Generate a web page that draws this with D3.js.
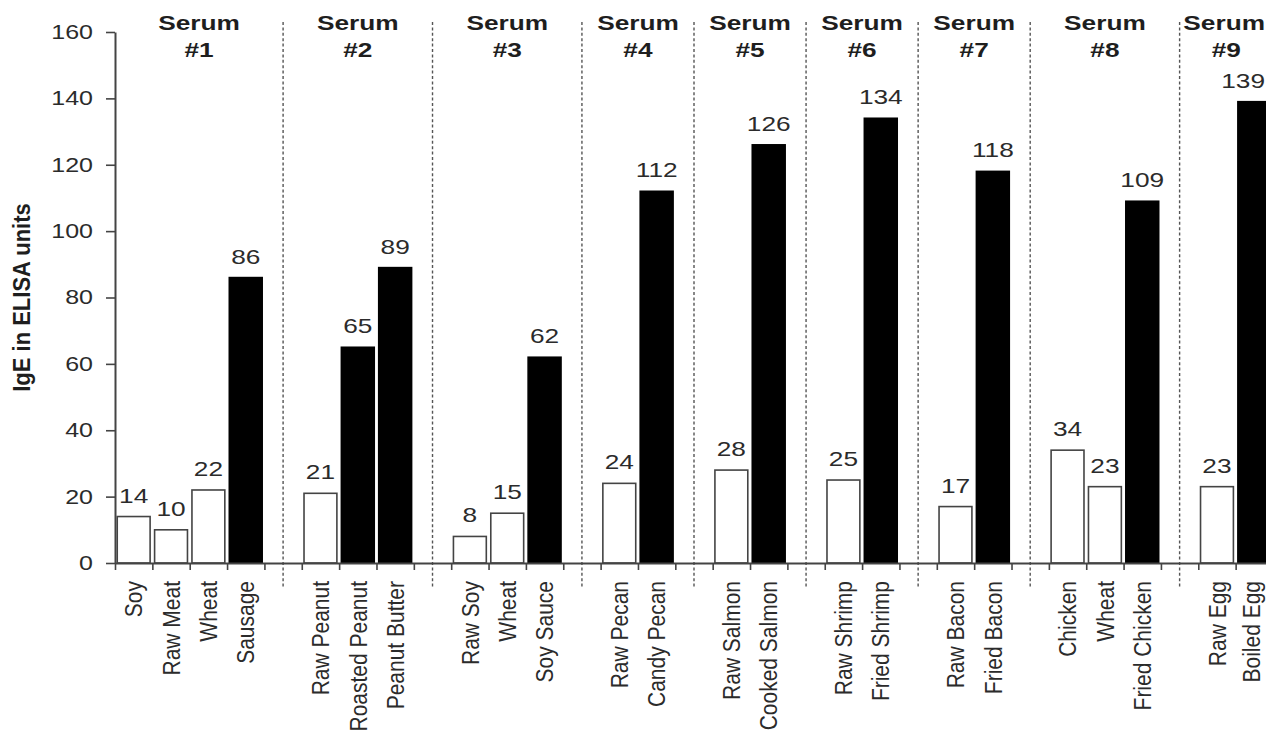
<!DOCTYPE html>
<html>
<head>
<meta charset="utf-8">
<script src="https://cdn.jsdelivr.net/npm/d3@7"></script>
<style>
  html, body { margin: 0; padding: 0; background: #fff; }
  svg { display: block; font-family: "Liberation Sans", Arial, Helvetica, sans-serif; }
</style>
</head>
<body>
<svg id="chart" width="1266" height="739"></svg>
<script>
// Serum groups, foods tested against each serum, IgE readings and whether the food was processed
const serumNames = ["#1", "#2", "#3", "#4", "#5", "#6", "#7", "#8", "#9"];
const foodNames = [
  ["Soy", "Raw Meat", "Wheat", "Sausage"],
  ["Raw Peanut", "Roasted Peanut", "Peanut Butter"],
  ["Raw Soy", "Wheat", "Soy Sauce"],
  ["Raw Pecan", "Candy Pecan"],
  ["Raw Salmon", "Cooked Salmon"],
  ["Raw Shrimp", "Fried Shrimp"],
  ["Raw Bacon", "Fried Bacon"],
  ["Chicken", "Wheat", "Fried Chicken"],
  ["Raw Egg", "Boiled Egg"]
];
const igeValues = [
  [14, 10, 22, 86],
  [21, 65, 89],
  [8, 15, 62],
  [24, 112],
  [28, 126],
  [25, 134],
  [17, 118],
  [34, 23, 109],
  [23, 139]
];
const processedFlags = [
  [0, 0, 0, 1],
  [0, 1, 1],
  [0, 0, 1],
  [0, 1],
  [0, 1],
  [0, 1],
  [0, 1],
  [0, 0, 1],
  [0, 1]
];
const yTicks = [0, 20, 40, 60, 80, 100, 120, 140, 160];
const yTitle = "IgE in ELISA units";
const groupWord = "Serum";

const svg = d3.select("#chart");
const W = 1266;
const plot = { left: 115, right: 1273, top: 32, bottom: 563 };
const SX = 1.25;             // horizontal widening of glyphs
const SXR = 1.15;            // widening for the rotated food labels
const textColor = "#2b2b2b";
const lineColor = "#444";

// Flatten into one row per slot; an empty slot separates consecutive serum groups
const rows = [];
serumNames.forEach((s, g) => {
  foodNames[g].forEach((f, i) => {
    rows.push({ key: g + ":" + i, group: g, food: f, value: igeValues[g][i], processed: !!processedFlags[g][i] });
  });
  if (g < serumNames.length - 1) rows.push({ key: "gap" + g, group: g, gap: true });
});
const slotKeys = rows.map(r => r.key);

const slot = d3.scaleBand().domain(slotKeys).range([plot.left, plot.right]).padding(0);
const band = d3.scaleBand().domain(slotKeys).range([plot.left, plot.right])
  .paddingInner(0.12).paddingOuter(0.06);
const y = d3.scaleLinear().domain([0, 160]).range([plot.bottom, plot.top]);
const step = slot.step();

// Vertical dashed dividers through the middle of each separator slot
const gapRows = rows.filter(r => r.gap);
svg.append("g").selectAll("line").data(gapRows).join("line")
  .attr("x1", d => slot(d.key) + step / 2)
  .attr("x2", d => slot(d.key) + step / 2)
  .attr("y1", 22).attr("y2", 587)
  .attr("stroke", "#555").attr("stroke-width", 1.4)
  .attr("stroke-dasharray", "3,2.4");

// Bars
const barRows = rows.filter(r => !r.gap);
svg.append("g").selectAll("rect").data(barRows).join("rect")
  .attr("x", d => band(d.key))
  .attr("y", d => y(d.value))
  .attr("width", band.bandwidth())
  .attr("height", d => y(0) - y(d.value))
  .attr("fill", d => d.processed ? "#000" : "#fff")
  .attr("stroke", d => d.processed ? "#000" : lineColor)
  .attr("stroke-width", 1.6);

// Value labels above bars
svg.append("g").selectAll("text").data(barRows).join("text")
  .attr("transform", d => `translate(${band(d.key) + band.bandwidth() / 2},${y(d.value) - 14}) scale(${SX},1)`)
  .attr("text-anchor", "middle")
  .attr("font-size", 21)
  .attr("fill", textColor)
  .text(d => d.value);

// Y axis
const yAxis = svg.append("g")
  .attr("transform", `translate(${plot.left},0)`)
  .call(d3.axisLeft(y).tickValues(yTicks).tickSize(9).tickSizeOuter(0));
yAxis.select(".domain").attr("stroke", lineColor).attr("stroke-width", 2);
yAxis.selectAll(".tick line").attr("stroke", lineColor).attr("stroke-width", 1.6);
yAxis.selectAll(".tick text")
  .attr("x", null)
  .attr("transform", `translate(-22,0) scale(${SX},1)`)
  .attr("font-size", 20)
  .attr("font-family", null)
  .attr("fill", textColor);

// X axis: ticks at every slot boundary, labels centred in each slot
const idx = d3.scaleLinear().domain([0, slotKeys.length]).range([plot.left, plot.right]);
const xAxis = svg.append("g")
  .attr("transform", `translate(0,${plot.bottom})`)
  .call(d3.axisBottom(idx).tickValues(d3.range(0, slotKeys.length + 1)).tickSize(7).tickSizeOuter(0).tickFormat(""));
xAxis.select(".domain").attr("stroke", lineColor).attr("stroke-width", 2);
xAxis.selectAll(".tick line").attr("stroke", lineColor).attr("stroke-width", 1.6);

const labelAxis = svg.append("g")
  .attr("transform", `translate(0,${plot.bottom})`)
  .call(d3.axisBottom(slot).tickSize(0).tickFormat(k => {
    const r = rows.find(q => q.key === k);
    return r.gap ? "" : r.food;
  }));
labelAxis.select(".domain").remove();
labelAxis.selectAll(".tick text")
  .attr("y", null).attr("dy", "0.36em")
  .attr("transform", `translate(0,18) scale(${SXR},1) rotate(-90)`)
  .attr("text-anchor", "end")
  .attr("font-size", 21)
  .attr("font-family", null)
  .attr("fill", textColor);

// Serum headers, centred between neighbouring dividers
const dividerX = gapRows.map(r => slot(r.key) + step / 2);
const edges = [plot.left, ...dividerX, plot.right];
const headers = svg.append("g").selectAll("g").data(serumNames).join("g")
  .attr("transform", (d, i) => `translate(${(edges[i] + edges[i + 1]) / 2},0)`);
headers.append("text")
  .attr("transform", `translate(0,30) scale(${SX},1)`)
  .attr("text-anchor", "middle").attr("font-size", 21).attr("font-weight", "bold")
  .attr("fill", "#1e1e1e")
  .text(groupWord);
headers.append("text")
  .attr("transform", `translate(0,57) scale(${SX},1)`)
  .attr("text-anchor", "middle").attr("font-size", 21).attr("font-weight", "bold")
  .attr("fill", "#1e1e1e")
  .text(d => d);

// Y axis title
svg.append("text")
  .attr("transform", `translate(30,${(plot.top + plot.bottom) / 2}) scale(1.05,1) rotate(-90)`)
  .attr("text-anchor", "middle")
  .attr("font-size", 22)
  .attr("font-weight", "bold")
  .attr("fill", "#1e1e1e")
  .text(yTitle);

// Pull any text that would run past the right edge back inside the drawing
svg.selectAll("text").each(function () {
  const b = this.getBoundingClientRect();
  const over = b.right - (W - 1);
  if (over > 0) {
    const t = this.getAttribute("transform") || "";
    this.setAttribute("transform", `translate(${-over},0) ${t}`);
  }
});
</script>
</body>
</html>
